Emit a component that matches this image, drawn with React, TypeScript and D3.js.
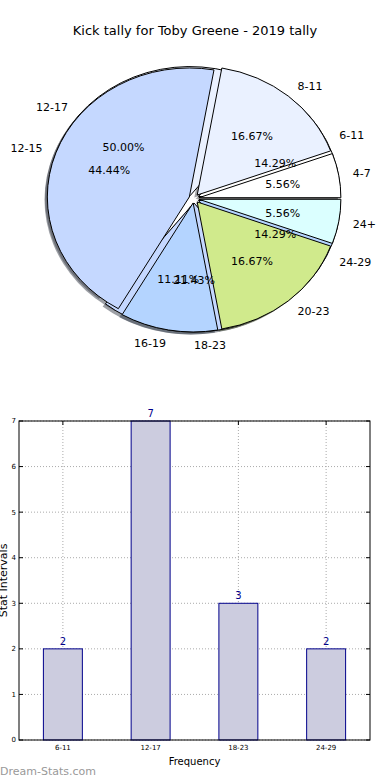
import * as d3 from "d3";

// pie one: the bar chart bins
const binsA = ["6-11", "12-17", "18-23", "24-29"];
const countsA = [2, 7, 3, 2];
// pie two: the finer bins drawn over it
const binsB = ["4-7", "8-11", "12-15", "16-19", "20-23", "24+"];
const countsB = [1, 3, 8, 2, 3, 1];
const palette = ["#ffffff", "#eaf1ff", "#c5d8ff", "#b4d4ff", "#d0ea8c", "#dbffff"];
const yTicks = [0, 1, 2, 3, 4, 5, 6, 7];

const font = "DejaVu Sans, sans-serif";

export default function App() {
    const width = 390;
    const height = 780;

    // pie geometry (axes not equal, so an ellipse)
    const cx = 194;
    const cy = 198.5;
    const rx = 142;
    const ry = 129;
    const explode = 0.035;
    const R = 100;

    const pie = d3.pie<number>().sort(null).startAngle(Math.PI / 2).endAngle(Math.PI / 2 - 2 * Math.PI);
    const arc = d3.arc<d3.PieArcDatum<number>>().innerRadius(0).outerRadius(R);

    const build = (labels: string[], values: number[], key: string) => {
        const arcs = pie(values);
        const sum = d3.sum(values);
        return arcs.map((a, i) => {
            const mid = (a.startAngle + a.endAngle) / 2;
            const dx = Math.sin(mid);
            const dy = -Math.cos(mid);
            const ox = explode * rx * dx;
            const oy = explode * ry * dy;
            return { a, i, mid, dx, dy, ox, oy, label: labels[i], pct: ((values[i] / sum) * 100).toFixed(2) + "%", key };
        });
    };
    const wedgesA = build(binsA, countsA, "a");
    const wedgesB = build(binsB, countsB, "b");
    const sx = rx / R;
    const sy = ry / R;

    const shade = (c: string) => {
        const col = d3.rgb(c);
        return d3.rgb(col.r * 0.3, col.g * 0.3, col.b * 0.3).toString();
    };

    // bar chart
    const left = 19;
    const right = 370;
    const top = 421;
    const bottom = 740;
    const x = d3.scaleBand(binsA, [left, right]).paddingInner(0.556).paddingOuter(0.278);
    const xp = d3.scalePoint(binsA, [left, right]).padding(0.5);
    const y = d3.scaleLinear([0, 7], [bottom, top]);

    const wedge = (w: any, shadow: boolean) => (
        <path
            key={w.key + w.i + (shadow ? "s" : "")}
            d={arc(w.a) ?? ""}
            transform={`translate(${cx + w.ox + (shadow ? -0.02 * rx : 0)},${cy + w.oy + (shadow ? 0.02 * ry : 0)}) scale(${sx},${sy})`}
            fill={shadow ? shade(palette[w.i]) : palette[w.i]}
            fillOpacity={shadow ? 0.5 : 1}
            stroke={shadow ? "none" : "#000"}
            strokeWidth={1}
            vectorEffect="non-scaling-stroke"
        />
    );

    const labelText = (w: any) => {
        const lx = cx + (explode + 1.1) * rx * w.dx;
        const ly = cy + (explode + 1.1) * ry * w.dy;
        return (
            <text key={w.key + "l" + w.i} x={lx} y={ly} dy="0.35em" textAnchor={w.dx > -1e-6 ? "start" : "end"} fontSize={11} fill="#000">
                {w.label}
            </text>
        );
    };
    const pctText = (w: any) => (
        <text key={w.key + "p" + w.i} x={cx + (explode + 0.6) * rx * w.dx} y={cy + (explode + 0.6) * ry * w.dy} dy="0.35em" textAnchor="middle" fontSize={11} fill="#000">
            {w.pct}
        </text>
    );

    return (
        <div style={{ position: "absolute", left: 0, top: 0 }}>
            <svg width={width} height={height} fontFamily={font} style={{ display: "block", background: "#fff" }}>
                <text x={195} y={30} dy="0.35em" textAnchor="middle" fontSize={13} fill="#000">
                    Kick tally for Toby Greene - 2019 tally
                </text>

                <g>
                    {wedgesA.map((w) => wedge(w, true))}
                    {wedgesB.map((w) => wedge(w, true))}
                    {wedgesA.map((w) => wedge(w, false))}
                    {wedgesB.map((w) => wedge(w, false))}
                    {wedgesA.map(labelText)}
                    {wedgesA.map(pctText)}
                    {wedgesB.map(labelText)}
                    {wedgesB.map(pctText)}
                </g>

                <g>
                    {yTicks.map((t) => (
                        <g key={"y" + t}>
                            <line x1={left} x2={right} y1={y(t)} y2={y(t)} stroke="#aaa" strokeDasharray="1,2" />
                            <line x1={left} x2={left + 4} y1={y(t)} y2={y(t)} stroke="#000" />
                            <line x1={right - 4} x2={right} y1={y(t)} y2={y(t)} stroke="#000" />
                            <text x={left - 3} y={y(t)} dy="0.35em" textAnchor="end" fontSize={7} fill="#000">
                                {t}
                            </text>
                        </g>
                    ))}
                    {binsA.map((b) => (
                        <g key={"x" + b}>
                            <line x1={xp(b)} x2={xp(b)} y1={top} y2={bottom} stroke="#aaa" strokeDasharray="1,2" />
                            <line x1={xp(b)} x2={xp(b)} y1={bottom - 4} y2={bottom} stroke="#000" />
                            <line x1={xp(b)} x2={xp(b)} y1={top} y2={top + 4} stroke="#000" />
                            <text x={xp(b)} y={748} dy="0.35em" textAnchor="middle" fontSize={7} fill="#000">
                                {b}
                            </text>
                        </g>
                    ))}
                    {binsA.map((b, i) => (
                        <g key={"bar" + b}>
                            <rect x={x(b)} y={y(countsA[i])} width={x.bandwidth()} height={y(0) - y(countsA[i])} fill="#ccccdf" stroke="#00008b" strokeWidth={1} />
                            <text x={(x(b) ?? 0) + x.bandwidth() / 2} y={y(countsA[i]) - 4} textAnchor="middle" fontSize={10} fill="#00008b">
                                {countsA[i]}
                            </text>
                        </g>
                    ))}
                    <rect x={left} y={top} width={right - left} height={bottom - top} fill="none" stroke="#000" strokeWidth={1} />
                    <text x={(left + right) / 2} y={761} dy="0.35em" textAnchor="middle" fontSize={10} fill="#000">
                        Frequency
                    </text>
                    <text transform={`translate(3,${(top + bottom) / 2}) rotate(-90)`} dy="0.35em" textAnchor="middle" fontSize={11} fill="#000">
                        Stat Intervals
                    </text>
                    <text x={0} y={771} dy="0.35em" fontSize={11} fill="#999">
                        Dream-Stats.com
                    </text>
                </g>
            </svg>
        </div>
    );
}
